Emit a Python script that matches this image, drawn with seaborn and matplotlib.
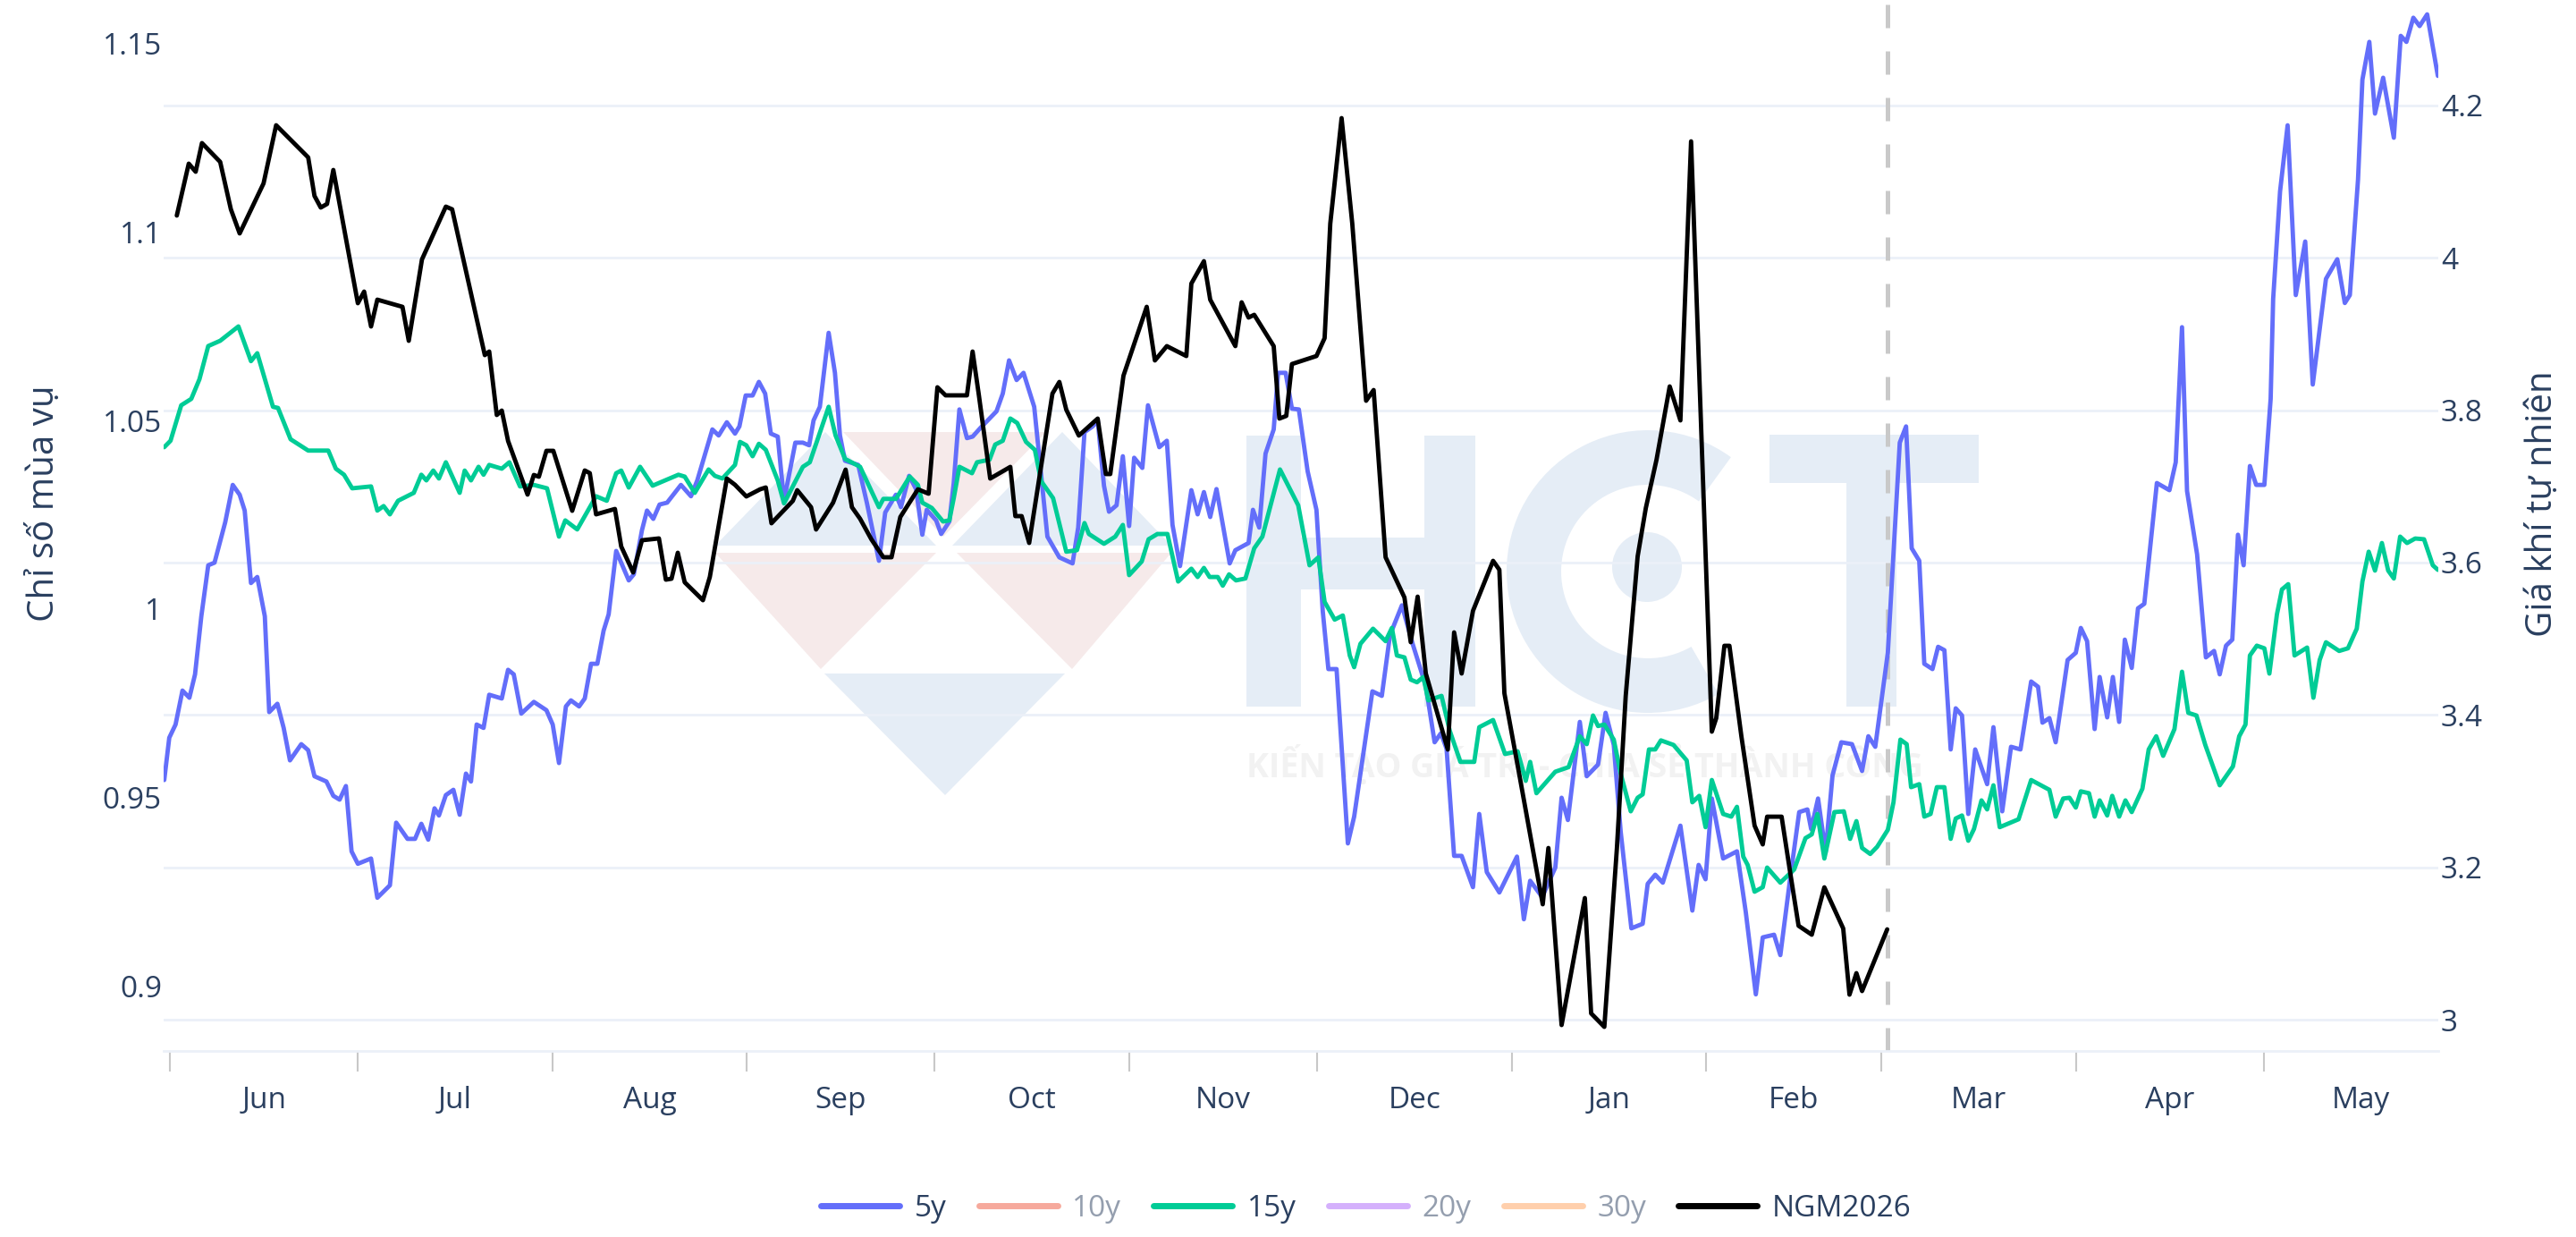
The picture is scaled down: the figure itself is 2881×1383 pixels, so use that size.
import matplotlib
matplotlib.use('Agg')
import matplotlib.pyplot as plt
import matplotlib.transforms as mtransforms
from matplotlib.lines import Line2D
from matplotlib.patches import Circle, Polygon, Rectangle, Wedge
import pandas as pd
import seaborn as sns

# Days since 1 Jun 2025 and values
days_5y = [-0.9, -0.1, 0.9, 2.0, 3.1, 4.0, 5.0, 6.1, 7.1, 8.8, 10.0, 11.1, 11.9, 12.9, 13.9, 15.1, 15.8, 17.1, 18.1, 19.1,
           20.9, 22.0, 23.0, 24.9, 26.0, 27.0, 28.0, 28.9, 29.9, 32.0, 33.0, 35.0, 36.0, 37.8, 39.0, 40.0, 41.1, 42.1, 42.8, 43.9,
           45.1, 46.1, 47.1, 47.9, 48.8, 49.9, 50.8, 52.8, 53.8, 54.7, 55.9, 57.9, 59.9, 60.9, 61.9, 63.0, 63.8, 65.1, 66.0, 67.0,
           68.0, 69.0, 69.8, 71.0, 73.0, 73.8, 75.1, 75.9, 76.9, 77.9, 79.1, 81.3, 82.9, 83.9, 86.3, 87.3, 88.6, 89.9, 90.6, 91.6,
           92.7, 93.7, 94.7, 95.6, 96.7, 97.7, 99.5, 100.7, 101.7, 102.4, 103.4, 104.8, 105.8, 106.6, 107.4, 109.5, 110.9, 112.8, 113.8, 115.5,
           116.3, 117.6, 118.7, 119.7, 120.4, 121.9, 122.7, 124.0, 124.7, 125.6, 126.8, 127.7, 129.0, 130.5, 131.5, 132.5, 133.5, 134.7, 135.8, 137.5,
           138.4, 139.6, 141.5, 143.6, 144.5, 145.5, 146.8, 147.6, 148.6, 149.4, 150.6, 151.6, 152.6, 153.4, 154.7, 155.6, 157.4, 158.6, 159.5, 160.7,
           162.5, 163.5, 164.5, 165.5, 166.5, 168.6, 169.5, 171.6, 172.3, 173.3, 174.3, 175.6, 176.3, 177.5, 178.5, 179.6, 181.0, 182.4, 183.4, 184.3,
           185.6, 187.4, 188.4, 191.3, 192.8, 194.1, 196.0, 197.7, 198.7, 199.8, 201.2, 202.2, 203.1, 204.3, 205.5, 207.3, 208.3, 209.5, 211.5, 214.3,
           215.4, 216.4, 218.3, 220.4, 221.4, 222.4, 224.3, 225.4, 227.2, 228.4, 229.7, 230.8, 232.5, 234.3, 235.1, 236.3, 237.5, 240.3, 242.2, 243.2,
           244.3, 245.3, 247.1, 249.3, 250.7, 252.3, 253.4, 255.2, 256.2, 257.8, 259.2, 260.5, 261.1, 262.2, 263.4, 264.5, 265.9, 267.6, 269.2, 270.2,
           271.3, 273.3, 275.2, 276.2, 277.1, 278.3, 279.1, 280.4, 281.3, 282.3, 283.3, 284.1, 285.1, 286.1, 287.2, 289.1, 290.1, 291.5, 292.9, 294.4,
           296.1, 297.2, 297.9, 299.0, 300.0, 301.9, 303.2, 304.0, 305.0, 306.2, 307.0, 308.2, 309.1, 310.1, 311.0, 312.1, 313.1, 314.1, 316.1, 318.1,
           319.1, 320.1, 320.9, 322.5, 323.9, 325.2, 326.1, 327.1, 328.1, 329.0, 329.9, 330.9, 331.9, 333.2, 334.2, 334.6, 335.7, 336.9, 338.2, 339.7,
           340.9, 343.0, 344.8, 346.0, 346.8, 348.1, 348.8, 349.9, 350.8, 352.1, 353.8, 354.9, 355.8, 356.9, 357.9, 359.1, 360.8]
values_5y = [.9547, .9659, .9694, .9784, .9765, .9827, .9981, 1.0116, 1.0123, 1.0230, 1.0329, 1.0303, 1.0261, 1.0069, 1.0085, .9981, .9727, .9749, .9685, .9599,
             .9642, .9626, .9557, .9543, .9505, .9495, .9531, .9358, .9325, .9339, .9235, .9268, .9434, .9391, .9391, .9431, .9389, .9472, .9453, .9507,
             .9521, .9455, .9564, .9543, .9694, .9685, .9773, .9763, .9839, .9827, .9723, .9754, .9732, .9694, .9592, .9742, .9758, .9742, .9763, .9855,
             .9855, .9943, .9986, 1.0154, 1.0076, 1.0092, 1.0209, 1.0261, 1.0239, 1.0277, 1.0282, 1.0329, 1.0299, 1.0341, 1.0476, 1.0460, 1.0495, 1.0465, 1.0484, 1.0566,
             1.0566, 1.0602, 1.0571, 1.0465, 1.0457, 1.0287, 1.0441, 1.0441, 1.0434, 1.0500, 1.0536, 1.0732, 1.0626, 1.0460, 1.0393, 1.0382, 1.0280, 1.0128, 1.0256, 1.0303,
             1.0270, 1.0353, 1.0318, 1.0197, 1.0263, 1.0235, 1.0199, 1.0232, 1.0334, 1.0529, 1.0453, 1.0457, 1.0481, 1.0507, 1.0524, 1.0571, 1.0659, 1.0607, 1.0626, 1.0536,
             1.0389, 1.0192, 1.0137, 1.0121, 1.0216, 1.0469, 1.0484, 1.0500, 1.0327, 1.0258, 1.0275, 1.0405, 1.0220, 1.0401, 1.0374, 1.0540, 1.0429, 1.0446, 1.0223, 1.0114,
             1.0315, 1.0251, 1.0310, 1.0244, 1.0318, 1.0121, 1.0156, 1.0175, 1.0263, 1.0216, 1.0412, 1.0476, 1.0626, 1.0626, 1.0531, 1.0529, 1.0365, 1.0263, .9995, .9841,
             .9841, .9379, .9450, .9782, .9770, .9931, 1.0010, .9908, .9855, .9796, .9647, .9671, .9630, .9346, .9346, .9263, .9457, .9303, .9249, .9344,
             .9178, .9280, .9237, .9315, .9500, .9441, .9701, .9557, .9588, .9725, .9640, .9410, .9154, .9166, .9272, .9296, .9275, .9426, .9201, .9322,
             .9284, .9498, .9339, .9358, .9197, .8979, .9130, .9137, .9083, .9291, .9462, .9469, .9417, .9498, .9355, .9559, .9647, .9642, .9571, .9663,
             .9635, .9884, 1.0441, 1.0484, 1.0161, 1.0128, .9855, .9841, .9900, .9891, .9628, .9737, .9718, .9457, .9628, .9536, .9687, .9464, .9635, .9628,
             .9808, .9794, .9699, .9711, .9647, .9865, .9884, .9950, .9915, .9682, .9820, .9713, .9820, .9701, .9919, .9844, 1.0002, 1.0014, 1.0334, 1.0315,
             1.0389, 1.0747, 1.0313, 1.0145, .9872, .9889, .9827, .9903, .9919, 1.0197, 1.0116, 1.0379, 1.0329, 1.0329, 1.0557, 1.0822, 1.1107, 1.1282, 1.0832, 1.0974,
             1.0595, 1.0875, 1.0927, 1.0811, 1.0832, 1.1138, 1.1403, 1.1503, 1.1313, 1.1408, 1.1249, 1.1519, 1.1503, 1.1567, 1.1545, 1.1576, 1.1413]

days_15y = [-0.9, 0.1, 1.8, 3.4, 4.7, 6.1, 8.0, 10.9, 12.9, 13.9, 16.4, 17.2, 19.2, 22.0, 25.2, 26.4, 27.7, 29.0, 32.0, 33.0,
            34.0, 35.0, 36.3, 38.8, 40.0, 40.8, 41.9, 42.8, 43.9, 46.1, 46.9, 47.9, 49.1, 49.9, 50.8, 52.8, 54.0, 55.7, 57.9, 60.0,
            61.9, 62.9, 64.8, 67.8, 69.5, 71.0, 71.8, 73.0, 74.8, 76.8, 80.9, 81.9, 83.5, 85.7, 86.7, 87.9, 89.9, 90.7, 91.7, 92.7,
            93.7, 94.8, 96.7, 97.7, 100.7, 101.8, 104.8, 105.9, 107.4, 109.8, 111.2, 112.8, 113.5, 115.5, 117.7, 119.0, 119.7, 121.2, 123.0, 124.0,
            124.7, 125.6, 127.6, 128.4, 130.4, 131.3, 132.5, 133.7, 134.8, 136.2, 137.6, 138.6, 140.5, 142.6, 144.3, 145.5, 146.2, 148.6, 150.4, 151.6,
            152.6, 154.6, 155.7, 157.1, 158.7, 160.4, 162.5, 163.5, 164.5, 165.4, 166.7, 167.5, 168.5, 169.6, 171.1, 172.5, 173.8, 176.6, 179.5, 181.3,
            182.7, 183.7, 185.3, 186.6, 187.7, 188.4, 189.4, 191.4, 193.4, 194.4, 195.2, 196.4, 197.4, 198.4, 199.4, 200.2, 202.3, 203.6, 205.3, 207.5,
            208.3, 210.5, 212.4, 214.4, 215.7, 216.4, 217.4, 220.4, 222.5, 224.3, 225.4, 226.4, 227.2, 228.2, 229.7, 230.8, 232.4, 233.5, 234.3, 235.3,
            236.3, 237.2, 239.2, 241.3, 242.2, 243.3, 244.3, 245.3, 247.1, 248.4, 249.3, 250.3, 251.0, 252.1, 253.4, 254.1, 256.2, 258.4, 260.2, 261.2,
            262.1, 263.2, 264.8, 266.3, 267.3, 268.3, 269.2, 270.5, 271.6, 273.3, 274.2, 275.3, 276.3, 277.0, 278.3, 279.1, 280.1, 281.1, 282.3, 283.3,
            284.1, 285.1, 286.1, 287.0, 288.2, 289.1, 290.1, 291.1, 294.1, 296.1, 299.0, 300.0, 301.2, 302.2, 303.2, 304.0, 305.3, 306.2, 307.0, 308.2,
            309.0, 310.1, 311.1, 312.1, 313.8, 314.8, 316.0, 317.1, 318.9, 320.1, 321.1, 322.4, 323.8, 326.1, 328.2, 329.2, 330.2, 330.9, 332.0, 333.2,
            334.0, 335.2, 336.0, 337.0, 338.0, 340.0, 341.0, 342.0, 343.0, 345.1, 346.5, 347.9, 348.8, 349.8, 350.8, 351.9, 352.9, 353.8, 354.8, 355.9,
            357.2, 358.6, 360.0, 360.8]
values_15y = [1.0429, 1.0446, 1.0540, 1.0557, 1.0609, 1.0697, 1.0711, 1.0749, 1.0657, 1.0678, 1.0536, 1.0533, 1.0450, 1.0420, 1.0420, 1.0372, 1.0356, 1.0320, 1.0325, 1.0261,
              1.0273, 1.0251, 1.0287, 1.0308, 1.0356, 1.0341, 1.0367, 1.0346, 1.0389, 1.0308, 1.0367, 1.0341, 1.0377, 1.0356, 1.0382, 1.0372, 1.0389, 1.0325, 1.0329, 1.0320,
              1.0192, 1.0235, 1.0211, 1.0299, 1.0287, 1.0360, 1.0367, 1.0322, 1.0377, 1.0327, 1.0356, 1.0351, 1.0308, 1.0370, 1.0353, 1.0346, 1.0382, 1.0443, 1.0434, 1.0405,
              1.0438, 1.0422, 1.0341, 1.0280, 1.0377, 1.0389, 1.0536, 1.0460, 1.0398, 1.0377, 1.0327, 1.0270, 1.0292, 1.0292, 1.0351, 1.0329, 1.0282, 1.0268, 1.0232, 1.0235,
              1.0294, 1.0377, 1.0360, 1.0389, 1.0396, 1.0436, 1.0446, 1.0505, 1.0493, 1.0443, 1.0422, 1.0339, 1.0294, 1.0152, 1.0156, 1.0228, 1.0199, 1.0173, 1.0192, 1.0223,
              1.0090, 1.0126, 1.0185, 1.0199, 1.0199, 1.0073, 1.0107, 1.0085, 1.0109, 1.0085, 1.0085, 1.0062, 1.0092, 1.0076, 1.0081, 1.0161, 1.0192, 1.0370, 1.0275, 1.0116,
              1.0137, 1.0019, .9972, .9983, .9877, .9846, .9908, .9948, .9915, .9950, .9877, .9872, .9813, .9806, .9820, .9758, .9770, .9678, .9595, .9595,
              .9687, .9706, .9616, .9623, .9545, .9595, .9512, .9569, .9581, .9663, .9642, .9718, .9690, .9694, .9654, .9564, .9464, .9500, .9509, .9628,
              .9628, .9652, .9640, .9599, .9488, .9505, .9422, .9547, .9457, .9450, .9476, .9344, .9322, .9251, .9263, .9315, .9275, .9310, .9393, .9403,
              .9457, .9339, .9462, .9464, .9391, .9438, .9367, .9351, .9370, .9415, .9488, .9654, .9642, .9528, .9536, .9450, .9457, .9528, .9528, .9391,
              .9445, .9453, .9386, .9417, .9493, .9469, .9533, .9422, .9443, .9547, .9521, .9450, .9498, .9500, .9474, .9517, .9512, .9450, .9493, .9453,
              .9505, .9450, .9493, .9462, .9524, .9628, .9663, .9611, .9682, .9834, .9725, .9718, .9640, .9533, .9583, .9663, .9694, .9877, .9903, .9896,
              .9829, .9986, 1.0052, 1.0066, .9877, .9898, .9765, .9865, .9912, .9889, .9896, .9948, 1.0073, 1.0152, 1.0102, 1.0175, 1.0102, 1.0081, 1.0192, 1.0175,
              1.0187, 1.0185, 1.0116, 1.0104]

days_ngm = [1.1, 3.0, 4.1, 5.1, 8.0, 9.7, 11.1, 14.9, 16.9, 22.0, 23.0, 24.0, 25.0, 26.0, 29.9, 30.9, 32.0, 33.0, 37.0, 38.0,
            40.1, 43.9, 44.9, 50.1, 50.8, 52.0, 52.8, 53.8, 56.9, 57.9, 58.7, 59.9, 61.0, 64.0, 66.0, 66.8, 67.8, 70.8, 71.8, 73.7,
            75.1, 77.8, 78.9, 79.8, 80.8, 81.9, 84.8, 85.9, 88.6, 89.9, 91.7, 93.9, 94.8, 95.7, 99.1, 99.8, 102.0, 102.8, 105.5, 107.5,
            108.5, 109.8, 111.6, 113.5, 114.8, 116.2, 119.0, 120.7, 122.1, 123.4, 126.8, 127.7, 128.7, 130.5, 133.7, 134.5, 135.5, 136.7, 140.4, 141.5,
            142.6, 144.6, 147.6, 148.9, 149.6, 151.7, 155.4, 156.7, 158.6, 161.7, 162.5, 164.5, 165.5, 169.5, 170.5, 171.6, 172.5, 175.6, 176.5, 177.6,
            178.5, 182.4, 183.7, 184.6, 186.4, 188.1, 190.3, 191.5, 193.4, 196.4, 197.4, 198.5, 199.8, 203.3, 204.3, 205.5, 207.3, 210.5, 211.5, 212.3,
            214.7, 218.4, 219.3, 221.4, 225.1, 226.1, 228.2, 230.2, 231.6, 233.5, 234.8, 236.5, 238.6, 240.3, 242.0, 245.3, 246.0, 247.3, 248.1, 250.0,
            252.1, 253.4, 254.1, 256.4, 257.8, 259.1, 261.2, 263.2, 266.2, 267.2, 268.3, 269.2, 273.2]
values_ngm = [4.0555, 4.1236, 4.1130, 4.1506, 4.1259, 4.0637, 4.0320, 4.0977, 4.1740, 4.1318, 4.0813, 4.0660, 4.0707, 4.1153, 3.9404, 3.9557, 3.9099, 3.9451, 3.9357, 3.8911,
              3.9979, 4.0672, 4.0637, 3.8723, 3.8770, 3.7937, 3.7995, 3.7596, 3.6892, 3.7150, 3.7127, 3.7467, 3.7467, 3.6680, 3.7209, 3.7174, 3.6633, 3.6704, 3.6211, 3.5870,
              3.6293, 3.6317, 3.5776, 3.5788, 3.6129, 3.5741, 3.5506, 3.5812, 3.7103, 3.7021, 3.6868, 3.6962, 3.6986, 3.6516, 3.6810, 3.6950, 3.6727, 3.6434, 3.6786, 3.7220,
              3.6727, 3.6575, 3.6305, 3.6070, 3.6070, 3.6598, 3.6962, 3.6904, 3.8301, 3.8195, 3.8195, 3.8770, 3.8195, 3.7103, 3.7256, 3.6610, 3.6610, 3.6258, 3.8218, 3.8371,
              3.8007, 3.7667, 3.7890, 3.7162, 3.7162, 3.8453, 3.9357, 3.8653, 3.8841, 3.8711, 3.9662, 3.9956, 3.9451, 3.8841, 3.9416, 3.9216, 3.9252, 3.8841, 3.7890, 3.7925,
              3.8606, 3.8711, 3.8946, 4.0449, 4.1834, 4.0449, 3.8124, 3.8265, 3.6070, 3.5542, 3.4955, 3.5553, 3.4544, 3.3546, 3.5084, 3.4544, 3.5366, 3.6023, 3.5906, 3.4285,
              3.3205, 3.1515, 3.2254, 2.9930, 3.1597, 3.0083, 2.9906, 3.2254, 3.4250, 3.6082, 3.6716, 3.7350, 3.8312, 3.7866, 4.1529, 3.3781, 3.3957, 3.4908, 3.4908, 3.3722,
              3.2548, 3.2301, 3.2665, 3.2665, 3.1914, 3.1233, 3.1116, 3.1738, 3.1198, 3.0329, 3.0611, 3.0376, 3.1186]

month_starts = ['2025-06-01', '2025-07-01', '2025-08-01', '2025-09-01', '2025-10-01', '2025-11-01',
                '2025-12-01', '2026-01-01', '2026-02-01', '2026-03-01', '2026-04-01', '2026-05-01', '2026-06-01']
month_labels = ['Jun', 'Jul', 'Aug', 'Sep', 'Oct', 'Nov', 'Dec', 'Jan', 'Feb', 'Mar', 'Apr', 'May']
left_ticks = [0.9, 0.95, 1, 1.05, 1.1, 1.15]
left_tick_labels = ['0.9', '0.95', '1', '1.05', '1.1', '1.15']
right_ticks = [3, 3.2, 3.4, 3.6, 3.8, 4, 4.2]
right_tick_labels = ['3', '3.2', '3.4', '3.6', '3.8', '4', '4.2']
legend_labels = ['5y', '10y', '15y', '20y', '30y', 'NGM2026']
legend_colors = ['#636efa', '#EF553B', '#00cc96', '#ab63fa', '#FFA15A', '#000000']
legend_hidden = [False, True, False, True, True, False]
forecast_start = '2026-03-02'

TEXT = '#2a3f5f'
GRID = '#ebf0f8'
W, H = 2881, 1383

sns.set_theme(style='white')
plt.rcParams['font.family'] = ['Open Sans', 'DejaVu Sans']
plt.rcParams['font.size'] = 24


def to_dates(days):
    # days were read at 7.03 px a day, the month ticks sit at 7.012 px a day
    return pd.Timestamp('2025-06-01') + pd.to_timedelta([d * 1.00257 for d in days], unit='D')


fig = plt.figure(figsize=(W / 100, H / 100), dpi=100, facecolor='white')
box = [183 / W, 1 - 1175 / H, (2727 - 183) / W, 1175 / H]
ax = fig.add_axes(box)
ax_grid = ax.twinx()
ax_right = ax.twinx()
ax_grid.set_zorder(1)
ax.set_zorder(2)
ax_right.set_zorder(3)
for a in (ax, ax_grid, ax_right):
    a.patch.set_visible(False)
    for s in a.spines.values():
        s.set_visible(False)

# Watermark behind the plot, in image pixels from the top left
pix = mtransforms.Affine2D().scale(1, -1).translate(0, H)
BLUE_WM = '#e5edf6'
PINK_WM = '#f6eaea'
for pts, col in [([(800, 610), (1047, 610), (923, 483)], BLUE_WM),
                 ([(1065, 610), (1310, 610), (1188, 483)], BLUE_WM),
                 ([(943, 483), (1170, 483), (1055, 600)], PINK_WM),
                 ([(800, 618), (1047, 618), (918, 748)], PINK_WM),
                 ([(1070, 618), (1310, 618), (1199, 748)], PINK_WM),
                 ([(922, 753), (1191, 753), (1057, 889)], BLUE_WM)]:
    fig.add_artist(Polygon(pts, closed=True, fc=col, ec='none', transform=pix, zorder=0.5))
for x0, y0, x1, y1 in [(1394, 487, 1455, 790), (1593, 487, 1650, 790), (1394, 601, 1650, 659),
                       (1979, 486, 2213, 540), (2065, 486, 2121, 790)]:
    fig.add_artist(Rectangle((x0, y0), x1 - x0, y1 - y0, fc=BLUE_WM, ec='none', transform=pix, zorder=0.5))
fig.add_artist(Wedge((1843, 639), 158, 60, 306, width=61, fc=BLUE_WM, ec='none', transform=pix, zorder=0.5))
fig.add_artist(Circle((1842, 634), 39, fc=BLUE_WM, ec='none', transform=pix, zorder=0.5))
fig.text(1394 / W, 1 - 855 / H, 'KIẾN TẠO GIÁ TRỊ - CHIA SẺ THÀNH CÔNG', color='#f2f2f2', fontsize=27,
         fontweight='bold', ha='left', va='center', zorder=0.6)

df_5y = pd.DataFrame({'date': to_dates(days_5y), 'value': values_5y})
df_15y = pd.DataFrame({'date': to_dates(days_15y), 'value': values_15y})
df_ngm = pd.DataFrame({'date': to_dates(days_ngm), 'value': values_ngm})

sns.lineplot(data=df_5y, x='date', y='value', color=legend_colors[0], lw=3.5, estimator=None, sort=False, ax=ax, legend=False)
sns.lineplot(data=df_15y, x='date', y='value', color=legend_colors[2], lw=3.5, estimator=None, sort=False, ax=ax, legend=False)
sns.lineplot(data=df_ngm, x='date', y='value', color=legend_colors[5], lw=3.5, estimator=None, sort=False, ax=ax_right, legend=False)

starts = pd.to_datetime(month_starts)
mids = [a + (b - a) / 2 for a, b in zip(starts[:-1], starts[1:])]
ax.set_xlim(pd.Timestamp('2025-06-01') - pd.Timedelta(days=1.0), pd.Timestamp('2025-06-01') + pd.Timedelta(days=361.8))
ax.set_ylim(0.8829, 1.1614)
ax_grid.set_ylim(2.9590, 4.3384)
ax_right.set_ylim(2.9590, 4.3384)

ax.set_xlabel('')
ax.set_xticks(starts[:-1])
ax.set_xticklabels([''] * 12)
ax.set_xticks(mids, minor=True)
ax.set_xticklabels(month_labels, minor=True)
ax.tick_params(axis='x', which='major', bottom=True, length=16.5, width=1.5, color='#c8c8c8', direction='out')
ax.tick_params(axis='x', which='minor', bottom=True, length=0, pad=28, labelsize=24, labelcolor=TEXT)
ax.spines['bottom'].set_visible(True)
ax.spines['bottom'].set_color(GRID)
ax.spines['bottom'].set_linewidth(2)

ax.set_yticks(left_ticks)
ax.set_yticklabels(left_tick_labels)
ax.tick_params(axis='y', left=False, right=False, length=0, pad=1.5, labelsize=24, labelcolor=TEXT)
ax.set_ylabel('Chỉ số mùa vụ', fontsize=29, color=TEXT)
ax.yaxis.set_label_coords(-0.0444, 0.521)

ax_grid.set_yticks(right_ticks)
ax_grid.tick_params(axis='y', right=False, left=False, labelright=False, labelleft=False)
ax_grid.grid(True, axis='y', color=GRID, lw=2)
ax_grid.set_ylabel('')
ax_grid.axvline(pd.Timestamp(forecast_start), color='#c9c9c9', lw=3.6, ls=(0, (5.2, 5.2)))

ax_right.set_yticks(right_ticks)
ax_right.set_yticklabels(right_tick_labels)
ax_right.tick_params(axis='y', right=False, left=False, length=0, pad=2, labelsize=24, labelcolor=TEXT)
ax_right.set_ylabel('Giá khí tự nhiên', fontsize=29, color=TEXT, rotation=90)
ax_right.yaxis.set_label_coords(1.0379, 0.521)

handles = [Line2D([], [], color=c, lw=5, alpha=0.5 if hide else 1) for c, hide in zip(legend_colors, legend_hidden)]
leg = fig.legend(handles, legend_labels, loc='center', bbox_to_anchor=(1528 / W, 1 - 1351 / H), ncol=6, frameon=False,
                 fontsize=24, handlelength=2.64, handletextpad=0.5, columnspacing=1.08, borderpad=0, borderaxespad=0)
for text, hide in zip(leg.get_texts(), legend_hidden):
    text.set_color(TEXT)
    text.set_alpha(0.5 if hide else 1)

fig.savefig('out.png', dpi=100, facecolor='white')
